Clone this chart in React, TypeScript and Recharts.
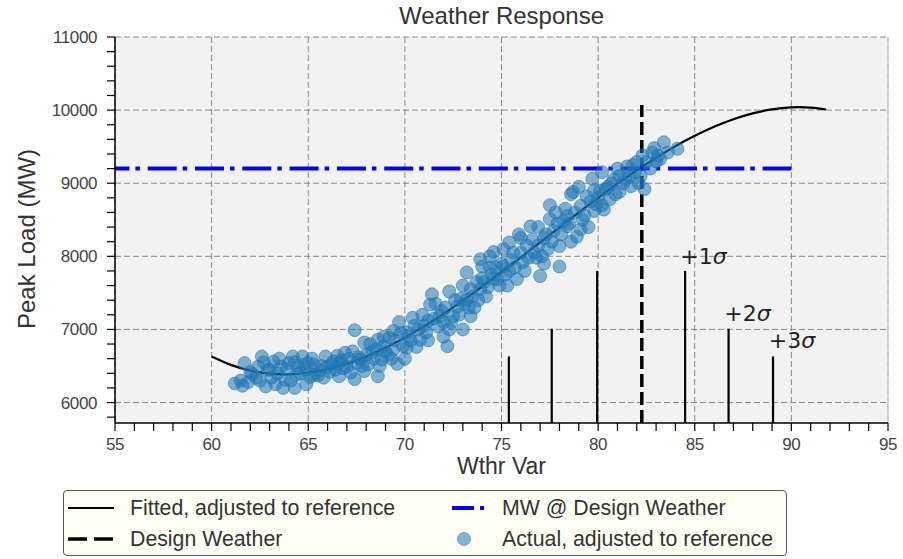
import {
  ComposedChart,
  Line,
  Scatter,
  XAxis,
  YAxis,
  CartesianGrid,
  ReferenceLine,
  Label,
} from "recharts"

// fitted weather-response curve (adjusted to reference)
const fitX = [60, 61, 62, 63, 64, 65, 66, 67, 68, 69, 70, 71, 72, 73, 74, 75, 76, 77, 78, 79, 80, 81, 82, 83, 84, 85, 86, 87, 88, 89, 90, 91, 91.8]
const fitY = [6630, 6515, 6437, 6395, 6386, 6407, 6456, 6531, 6630, 6749, 6888, 7043, 7213, 7394, 7585, 7783, 7986, 8192, 8397, 8601, 8800, 8993, 9176, 9348, 9507, 9649, 9772, 9875, 9955, 10010, 10037, 10034, 10008]

// observed peaks (adjusted to reference)
const actualPoints: [number, number][] = [
  [61.2, 6260], [61.5, 6300], [61.6, 6230], [61.7, 6540], [61.9, 6280], [62.0, 6420], [62.1, 6390], [62.3, 6340],
  [62.4, 6490], [62.5, 6300], [62.6, 6630], [62.7, 6550], [62.8, 6220], [62.9, 6450], [63.0, 6450], [63.1, 6340],
  [63.2, 6560], [63.3, 6250], [63.4, 6400], [63.5, 6600], [63.6, 6490], [63.7, 6200], [63.8, 6310], [63.9, 6460],
  [64.0, 6540], [64.1, 6300], [64.2, 6630], [64.3, 6550], [64.3, 6200], [64.4, 6380], [64.5, 6470], [64.6, 6400],
  [64.7, 6630], [64.8, 6520], [64.9, 6250], [64.9, 6450], [65.0, 6540], [65.1, 6350], [65.2, 6600], [65.3, 6380],
  [65.3, 6520], [65.5, 6370], [65.6, 6440], [65.7, 6500], [65.8, 6340], [65.9, 6630], [66.0, 6490], [66.1, 6420],
  [66.2, 6520], [66.3, 6560], [66.4, 6450], [66.5, 6640], [66.6, 6360], [66.6, 6540], [66.7, 6580], [66.8, 6470],
  [66.9, 6680], [67.0, 6490], [67.1, 6600], [67.2, 6410], [67.3, 6700], [67.4, 6990], [67.4, 6320], [67.5, 6540],
  [67.6, 6620], [67.7, 6590], [67.8, 6500], [67.9, 6820], [67.9, 6430], [68.0, 6650], [68.1, 6520], [68.2, 6800],
  [68.3, 6690], [68.4, 6600], [68.5, 6730], [68.6, 6360], [68.6, 6860], [68.7, 6500], [68.8, 6590], [68.9, 6770],
  [68.9, 6900], [69.0, 6700], [69.1, 6650], [69.2, 6890], [69.3, 6600], [69.4, 6720], [69.4, 6980], [69.5, 6850],
  [69.6, 6530], [69.7, 7100], [69.8, 6950], [69.9, 6770], [70.0, 6600], [70.1, 6960], [70.1, 6750], [70.2, 6900],
  [70.3, 6850], [70.4, 7160], [70.5, 7050], [70.6, 6760], [70.7, 7000], [70.8, 6860], [70.9, 7200], [71.0, 7050],
  [71.1, 6960], [71.2, 7120], [71.2, 6850], [71.3, 7340], [71.4, 7480], [71.5, 7150], [71.6, 7350], [71.7, 7040],
  [71.8, 7180], [71.9, 7250], [72.0, 6900], [72.0, 7100], [72.1, 7300], [72.2, 6770], [72.3, 7520], [72.3, 7000],
  [72.4, 7100], [72.5, 7180], [72.6, 7400], [72.7, 7310], [72.8, 7200], [72.9, 7420], [73.0, 7000], [73.0, 7600],
  [73.1, 7350], [73.2, 7410], [73.2, 7780], [73.3, 7300], [73.4, 7180], [73.4, 7550], [73.5, 7450], [73.6, 7300],
  [73.7, 7650], [73.8, 7400], [73.9, 7550], [73.9, 7960], [74.0, 7860], [74.0, 7700], [74.1, 7650], [74.2, 7450],
  [74.3, 7580], [74.4, 8000], [74.4, 7850], [74.5, 7750], [74.6, 7690], [74.6, 8060], [74.7, 7850], [74.8, 7690],
  [74.9, 7600], [75.0, 7900], [75.1, 7860], [75.1, 8100], [75.2, 7750], [75.3, 7600], [75.4, 8190], [75.4, 7800],
  [75.5, 7950], [75.6, 8050], [75.7, 7850], [75.8, 7690], [75.9, 8300], [76.0, 8050], [76.0, 8250], [76.1, 7920],
  [76.2, 7800], [76.3, 8150], [76.4, 7980], [76.5, 8410], [76.6, 8230], [76.7, 8050], [76.8, 7980], [76.9, 8150],
  [76.9, 8400], [77.0, 7730], [77.1, 8000], [77.2, 8250], [77.2, 7900], [77.3, 8300], [77.4, 8100], [77.5, 8510],
  [77.5, 8700], [77.6, 8200], [77.7, 8350], [77.8, 8600], [77.9, 8450], [78.0, 8140], [78.0, 7860], [78.1, 8300],
  [78.2, 8480], [78.3, 8650], [78.4, 8410], [78.4, 8550], [78.5, 8450], [78.6, 8850], [78.6, 8200], [78.7, 8880],
  [78.8, 8600], [78.9, 8270], [79.0, 8950], [79.1, 8690], [79.1, 8370], [79.2, 8500], [79.3, 8560], [79.4, 8820],
  [79.5, 8400], [79.6, 8750], [79.7, 9060], [79.8, 8620], [79.8, 8900], [79.9, 8710], [80.0, 8800], [80.1, 8900],
  [80.2, 9150], [80.2, 8700], [80.3, 8640], [80.4, 8920], [80.5, 8950], [80.6, 8780], [80.7, 9000], [80.8, 9050],
  [80.9, 8850], [81.0, 9200], [81.1, 9100], [81.1, 8880], [81.3, 9000], [81.4, 9050], [81.5, 9230], [81.6, 9100],
  [81.7, 8960], [81.8, 9250], [81.9, 9150], [82.0, 9290], [82.1, 9000], [82.2, 9100], [82.3, 9380], [82.4, 8920],
  [82.5, 9290], [82.7, 9200], [82.8, 9420], [82.9, 9480], [83.0, 9300], [83.1, 9380], [83.2, 9330], [83.4, 9560],
  [83.6, 9420], [84.1, 9470],
]

// design weather and load at design weather
const designWeather = 82.26
const designLoad = 9200
const designTop = 10070

// distribution stems around design weather
const stemX = [75.38, 77.6, 79.95, 84.5, 86.75, 89.05]
const stemY = [6630, 7010, 7800, 7800, 7010, 6630]

const sigmaLabels = [
  { x: 85.45, y: 8005, text: "+1" },
  { x: 87.73, y: 7225, text: "+2" },
  { x: 90.03, y: 6855, text: "+3" },
]

const xTicks = [55, 56, 57, 58, 59, 60, 61, 62, 63, 64, 65, 66, 67, 68, 69, 70, 71, 72, 73, 74, 75, 76, 77, 78, 79, 80, 81, 82, 83, 84, 85, 86, 87, 88, 89, 90, 91, 92, 93, 94, 95]
const xMajor = [55, 60, 65, 70, 75, 80, 85, 90, 95]
const yTicks = [5800, 6000, 6200, 6400, 6600, 6800, 7000, 7200, 7400, 7600, 7800, 8000, 8200, 8400, 8600, 8800, 9000, 9200, 9400, 9600, 9800, 10000, 10200, 10400, 10600, 10800, 11000]
const yMajor = [6000, 7000, 8000, 9000, 10000, 11000]

const fitData = fitX.map((x, i) => ({ x, y: fitY[i] }))
const actualData = actualPoints.map(([x, y]) => ({ x, y }))

const SANS = "'Liberation Sans', Arial, sans-serif"
const PT_BLUE = "#1f77b4"

function XTick({ x, y, payload }: any) {
  if (!xMajor.includes(payload.value)) return null
  return (
    <text x={x} y={y + 17} textAnchor="middle" fontFamily={SANS} fontSize={17} fill="#444" letterSpacing={-0.4}>
      {payload.value}
    </text>
  )
}

function YTick({ x, y, payload }: any) {
  if (!yMajor.includes(payload.value)) return null
  return (
    <text x={x - 8} y={y + 6} textAnchor="end" fontFamily={SANS} fontSize={17} fill="#444" letterSpacing={-0.4}>
      {payload.value}
    </text>
  )
}

function Dot(props: any) {
  const { cx, cy } = props
  return (
    <circle cx={cx} cy={cy} r={6.5} fill={PT_BLUE} fillOpacity={0.55} stroke={PT_BLUE} strokeOpacity={0.55} strokeWidth={1} />
  )
}

function SigmaText(props: any) {
  const { cx, cy, payload } = props
  return (
    <text x={cx} y={cy + 8} textAnchor="middle" fontFamily="'DejaVu Sans', sans-serif" fontSize={22} fill="#222">
      {payload.text}
      <tspan fontStyle="italic">σ</tspan>
    </text>
  )
}

function LegendBox() {
  const txt = { position: "absolute" as const, fontFamily: SANS, fontSize: 21.3, color: "#333", lineHeight: "24px" }
  return (
    <div
      style={{
        position: "absolute",
        left: 63,
        top: 490,
        width: 722,
        height: 64,
        border: "1.5px solid #555",
        borderRadius: 4,
        background: "#fffff5",
      }}
    >
      <svg width={722} height={64} style={{ position: "absolute", left: 0, top: 0 }}>
        <line x1={4} x2={50} y1={17} y2={17} stroke="#000" strokeWidth={2.2} />
        <line x1={4} x2={50} y1={48} y2={48} stroke="#000" strokeWidth={3.5} strokeDasharray="19 7" />
        <line x1={388} x2={420} y1={17} y2={17} stroke="#0000ff" strokeWidth={4} strokeDasharray="22 6 4.5 7" />
        <circle cx={400} cy={48} r={6.5} fill={PT_BLUE} fillOpacity={0.55} stroke={PT_BLUE} strokeOpacity={0.55} />
      </svg>
      <div style={{ ...txt, left: 66, top: 5 }}>Fitted, adjusted to reference</div>
      <div style={{ ...txt, left: 66, top: 36 }}>Design Weather</div>
      <div style={{ ...txt, left: 438, top: 5 }}>MW @ Design Weather</div>
      <div style={{ ...txt, left: 438, top: 36 }}>Actual, adjusted to reference</div>
    </div>
  )
}

export default function App() {
  return (
    <div style={{ position: "absolute", left: 0, top: 0, width: 903, height: 559, background: "#fff" }}>
      <div
        style={{
          position: "absolute",
          left: 115,
          width: 773,
          top: 2,
          textAlign: "center",
          fontFamily: SANS,
          fontSize: 24,
          lineHeight: "28px",
          color: "#333",
        }}
      >
        Weather Response
      </div>
      <ComposedChart width={903} height={559} margin={{ top: 37, right: 15, left: 0, bottom: 76 }}>
        <CartesianGrid
          fill="#f2f2f2"
          stroke="#8a8a8a"
          strokeDasharray="6 3"
          horizontalValues={yMajor}
          verticalValues={xMajor}
        />
        <XAxis
          type="number"
          dataKey="x"
          domain={[55, 95]}
          ticks={xTicks}
          interval={0}
          allowDataOverflow
          height={60}
          tickSize={8}
          tickLine={{ stroke: "#000", strokeWidth: 1.2 }}
          axisLine={{ stroke: "#000", strokeWidth: 1.5 }}
          tick={<XTick />}
        >
          <Label
            value="Wthr Var"
            position="insideBottom"
            offset={9}
            style={{ fontFamily: SANS, fontSize: 23, fill: "#333" }}
          />
        </XAxis>
        <YAxis
          type="number"
          dataKey="y"
          domain={[5720, 11000]}
          ticks={yTicks}
          interval={0}
          allowDataOverflow
          width={115}
          tickSize={8}
          tickLine={{ stroke: "#000", strokeWidth: 1.2 }}
          axisLine={{ stroke: "#000", strokeWidth: 1.5 }}
          tick={<YTick />}
        >
          <Label
            content={({ viewBox }: any) => {
              const cy = viewBox.y + viewBox.height / 2 + 9
              return (
                <text
                  x={35}
                  y={cy}
                  transform={`rotate(-90, 35, ${cy})`}
                  textAnchor="middle"
                  fontFamily={SANS}
                  fontSize={24}
                  fill="#333"
                >
                  Peak Load (MW)
                </text>
              )
            }}
          />
        </YAxis>
        <ReferenceLine x={95} stroke="#cfcfcf" strokeWidth={1.5} />
        <Scatter data={actualData} shape={<Dot />} isAnimationActive={false} />
        <Line
          data={fitData}
          dataKey="y"
          type="natural"
          stroke="#000"
          strokeWidth={2.2}
          dot={false}
          activeDot={false}
          isAnimationActive={false}
        />
        {stemX.map((sx, i) => (
          <ReferenceLine
            key={sx}
            segment={[
              { x: sx, y: 5720 },
              { x: sx, y: stemY[i] },
            ]}
            stroke="#000"
            strokeWidth={2.2}
          />
        ))}
        <ReferenceLine
          segment={[
            { x: designWeather, y: 5720 },
            { x: designWeather, y: designTop },
          ]}
          stroke="#000"
          strokeWidth={3.5}
          strokeDasharray="13 5"
        />
        <ReferenceLine
          segment={[
            { x: 55, y: designLoad },
            { x: 90, y: designLoad },
          ]}
          stroke="#0000ff"
          strokeWidth={4}
          strokeDasharray="29 6 4.5 7.8"
          strokeDashoffset={14.6}
        />
        <Scatter data={sigmaLabels} shape={<SigmaText />} isAnimationActive={false} />
      </ComposedChart>
      <LegendBox />
    </div>
  )
}
